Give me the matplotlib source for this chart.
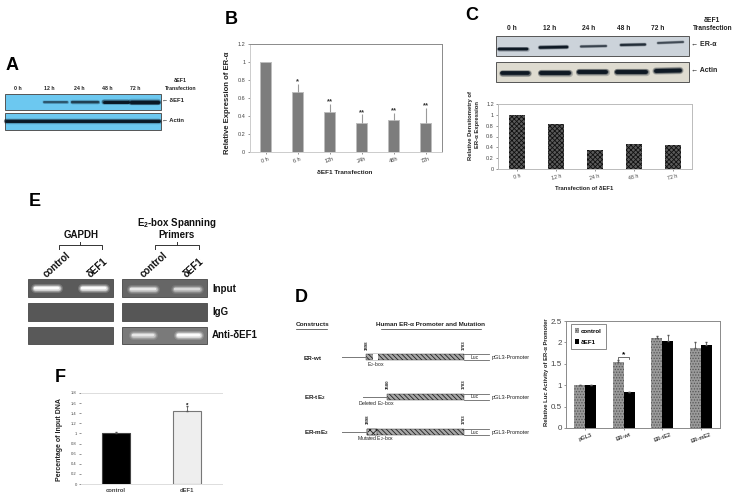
import numpy as np
import matplotlib
matplotlib.use('Agg')
import matplotlib.pyplot as plt
from matplotlib.patches import Rectangle

W, H = 737, 496
plt.rcParams['font.family'] = ['Liberation Sans', 'DejaVu Sans']
plt.rcParams['mathtext.default'] = 'regular'
plt.rcParams['hatch.linewidth'] = 0.6

# panel B
b_labels = ['0 h', '6 h', '12h', '24h', '48h', '72h']
b_values = [1.0, 0.67, 0.45, 0.33, 0.36, 0.33]
b_errors = [0.005, 0.09, 0.09, 0.09, 0.08, 0.16]
b_stars = ['', '*', '**', '**', '**', '**']

# panel C
c_labels = ['0 h', '12 h', '24 h', '48 h', '72 h']
c_values = [1.0, 0.84, 0.36, 0.46, 0.44]

# panel D
d_labels = ['pGL3', 'ER-wt', 'ER-tE2', 'ER-mE2']
d_control = [1.0, 1.55, 2.11, 1.87]
d_control_err = [0.0, 0.03, 0.04, 0.14]
d_def1 = [1.0, 0.85, 2.04, 1.93]
d_def1_err = [0.0, 0.0, 0.13, 0.08]

# panel F
f_labels = ['control', 'dEF1']
f_values = [1.0, 1.45]
f_errors = [0.02, 0.09]

# band strengths on the blots and gels
a_def1_bands = [0.0, 0.25, 0.4, 0.75, 1.0]
c_era_bands = [0.85, 0.8, 0.4, 0.55, 0.35]
c_actin_bands = [0.9, 1.0, 1.0, 1.0, 1.0]
e_input_gapdh = [1.0, 1.0]
e_input_primers = [0.7, 0.55]
e_anti_primers = [0.65, 1.0]

fig = plt.figure(figsize=(W / 100, H / 100), dpi=100)


def box_axes(x0, y0, x1, y1):
    return fig.add_axes([x0 / W, 1 - y1 / H, (x1 - x0) / W, (y1 - y0) / H])


canvas = fig.add_axes([0, 0, 1, 1], zorder=3)
canvas.set_xlim(0, W)
canvas.set_ylim(H, 0)
canvas.axis('off')
canvas.patch.set_alpha(0)


def label(x, y, s, size=4.5, weight='bold', color='#222222', ha='center', rot=0):
    canvas.text(x, y, s, fontsize=size, fontweight=weight, color=color, ha=ha,
                va='center', rotation=rot, rotation_mode='anchor')


def panel(x, y, s):
    label(x, y, s, size=13, color='black', ha='left')


def blot(x0, y0, x1, y1, color):
    canvas.add_patch(Rectangle((x0, y0), x1 - x0, y1 - y0, fc=color, ec='#555555', lw=0.7))


def band(x0, x1, y0, y1, strength, color='#05101c', thick=3.0):
    if strength <= 0:
        return
    width = thick * (0.45 + 0.55 * strength) * 0.72
    for k, a in [(1.6, 0.22), (1.25, 0.4), (0.85, 0.9)]:
        canvas.plot([x0, x1], [y0, y1], color=color, alpha=a * min(1, strength + 0.25),
                    lw=k * width, solid_capstyle='round')


def gel_band(x0, x1, y, strength):
    for k, a in [(9, 0.18), (6.5, 0.35), (4.5, 0.6), (2.5, 0.9)]:
        canvas.plot([x0, x1], [y, y], color='white', alpha=a * strength, lw=k * 0.72,
                    solid_capstyle='round')


def style_axes(ax, edge='#8a8a8a', tick=4.0):
    for s in ax.spines.values():
        s.set_color(edge)
        s.set_linewidth(0.7)
    ax.tick_params(axis='both', length=1.5, width=0.4, labelsize=tick, pad=1.5,
                   colors='#444444')


# A
panel(6, 65, 'A')
for x, s in zip([18, 49, 79, 107, 135], ['0 h', '12 h', '24 h', '48 h', '72 h']):
    label(x, 88, s, size=3.8)
label(180, 81, 'δEF1', size=3.8)
label(181, 88, 'Transfection', size=3.8)
blot(5, 94, 161, 110, '#6cc8f0')
blot(5, 113, 161, 130, '#6cc8f0')
for (x0, x1), v in zip([(8, 30), (44, 67), (72, 98), (104, 128), (131, 158)], a_def1_bands):
    band(x0, x1, 101.5, 101.5, v, thick=4.0)
band(6, 159, 121, 121, 1.0, thick=3.4)
label(162, 101, '← δEF1', size=4.2, ha='left')
label(162, 120, '← Actin', size=4.2, ha='left')

# B
panel(225, 20, 'B')
ax = box_axes(249.5, 44, 441.5, 152.3)
x = np.arange(len(b_values))
ax.bar(x, b_values, width=0.33, color='#7d7d7d', edgecolor='#bdbdbd', linewidth=0.7)
ax.errorbar(x, b_values, yerr=[np.zeros(6), b_errors], fmt='none', ecolor='#9a9a9a',
            elinewidth=0.8, capsize=0)
for i, s in enumerate(b_stars):
    ax.text(i, b_values[i] + b_errors[i] - 0.015, s, ha='center', va='bottom', fontsize=5.5,
            fontweight='bold', color='#333333')
ax.set_xlim(-0.5, 5.5)
ax.set_ylim(0, 1.2)
ax.set_yticks([0, 0.2, 0.4, 0.6, 0.8, 1, 1.2])
ax.set_yticklabels(['0', '0.2', '0.4', '0.6', '0.8', '1', '1.2'])
ax.set_xticks(x)
ax.set_xticklabels(b_labels, rotation=20)
style_axes(ax)
ax.spines['left'].set_color('#cccccc')
ax.spines['bottom'].set_color('#cccccc')
label(227.5, 103, 'Relative Expression of ER-α', size=5.6, rot=90)
label(345, 172.5, 'δEF1 Transfection', size=4.6)

# C
panel(465, 15, 'C')
for x0, s in zip([512, 550, 589, 624, 658], c_labels):
    label(x0, 29, s, size=4.8)
label(712, 21, 'δEF1', size=4.8)
label(713, 29, 'Transfection', size=4.8)
blot(496, 36, 689, 56, '#ccd3da')
blot(496, 62, 689, 82, '#dedbd0')
era_pos = [(499, 527, 48.5, 48.5), (540, 567, 47.5, 47), (581, 606, 46.5, 46),
           (621, 645, 45, 44.5), (658, 683, 43, 42)]
actin_pos = [(502, 528, 73, 73), (541, 569, 73, 73), (579, 606, 72, 72),
             (617, 646, 71.5, 71.5), (656, 680, 71, 70.5)]
for (x0, x1, y0, y1), v in zip(era_pos, c_era_bands):
    band(x0, x1, y0, y1, v, thick=3.2)
for (x0, x1, y0, y1), v in zip(actin_pos, c_actin_bands):
    band(x0, x1, y0, y1, v, thick=4.6)
label(691, 44, '← ER-α', size=5, ha='left')
label(691, 70, '← Actin', size=5, ha='left')

ax = box_axes(498, 104, 692, 169)
x = np.arange(len(c_values))
ax.bar(x, c_values, width=0.41, color='#5a5a5a', edgecolor='#111111', hatch='xxxxxxx', linewidth=0)
ax.set_xlim(-0.5, 4.5)
ax.set_ylim(0, 1.2)
ax.set_yticks([0, 0.2, 0.4, 0.6, 0.8, 1, 1.2])
ax.set_yticklabels(['0', '0.2', '0.4', '0.6', '0.8', '1', '1.2'])
ax.set_xticks(x)
ax.set_xticklabels(c_labels, rotation=15)
style_axes(ax, edge='#bbbbbb')
ax.tick_params(axis='x', labelsize=3.8)
label(471, 125, 'Relative Densitometry of', size=4.2, rot=90)
label(478, 125, 'ER-α Expression', size=4.2, rot=90)
label(584, 189, 'Transfection of δEF1', size=4.2)

# E
panel(29, 202, 'E')
label(81, 235, 'GAPDH', size=7, color='#111111')
label(177, 223, 'E$_2$-box Spanning', size=7, color='#111111')
label(177, 235, 'Primers', size=7, color='#111111')
for x0, x1 in [(59, 102), (155, 199)]:
    canvas.plot([x0, x0, x1, x1], [249, 245, 245, 249], color='#333333', lw=0.7)
    canvas.plot([(x0 + x1) / 2] * 2, [245, 242], color='#333333', lw=0.7)
for x0, s in zip([45, 89, 142, 185], ['control', 'δEF1', 'control', 'δEF1']):
    label(x0, 276, s, size=7, ha='left', rot=42, color='#111111')
rows = [(279, 297), (303, 321), (327, 344)]
gel_colors = [('#5a5a5a', '#666666'), ('#575757', '#565656'), ('#595959', '#7a7a7a')]
for (y0, y1), (c0, c1) in zip(rows, gel_colors):
    blot(28, y0, 113.5, y1, c0)
    blot(122, y0, 207.5, y1, c1)
for (x0, x1), v in zip([(35, 58), (82, 105)], e_input_gapdh):
    gel_band(x0, x1, 288, v)
for (x0, x1), v in zip([(131, 155), (175, 199)], e_input_primers):
    gel_band(x0, x1, 288.5, v)
for (x0, x1), v in zip([(133, 153), (178, 199)], e_anti_primers):
    gel_band(x0, x1, 335, v)
label(212, 288.5, 'Input', size=7, ha='left', color='#111111')
label(212, 312, 'IgG', size=7, ha='left', color='#111111')
label(212, 335, 'Anti-δEF1', size=7, ha='left', color='#111111')

# D schematic
panel(295, 298, 'D')
label(296, 325, 'Constructs', size=4.6, ha='left')
canvas.plot([296, 327], [329, 329], color='#333333', lw=0.5)
label(431, 324, 'Human ER-α Promoter and Mutation', size=4.6)
canvas.plot([381, 481], [328.5, 328.5], color='#333333', lw=0.5)


def construct(y, name, line_x0, box_x0, site, note, note_y, gap=False, mutated=False):
    top, bottom = y - 3, y + 3
    label(304, y + 1, name, size=4.6, ha='left')
    canvas.plot([line_x0, box_x0], [y, y], color='#777777', lw=0.7)
    canvas.add_patch(Rectangle((box_x0, top), 464 - box_x0, 6, fc='#a8a8a8', ec='#222222',
                               hatch='\\\\\\\\\\\\\\', lw=0.3))
    if gap:
        canvas.add_patch(Rectangle((373, top), 5, 6, fc='white', ec='none'))
    if mutated:
        canvas.add_patch(Rectangle((367, top), 10, 6, fc='#c0c0c0', ec='#222222',
                                   hatch='xxxxx', lw=0.3))
    canvas.plot([464, 489], [top, top], color='#666666', lw=0.6)
    canvas.plot([464, 489], [bottom, bottom], color='#666666', lw=0.6)
    label(475, y + 0.5, 'Luc', size=3.6, weight='normal')
    label(492, y + 1, 'pGL3-Promoter', size=4, weight='normal', ha='left')
    label(box_x0 + 0.5, y - 12, site, size=3.2, rot=90)
    label(464, y - 12, '1783', size=3.2, rot=90)
    label(376, note_y, note, size=3.7, weight='normal')


construct(357, 'ER-wt', 342, 366, '3898', 'E$_2$-box', 364.5, gap=True)
construct(396.5, 'ER-tE$_2$', 363, 387, '3580', 'Deleted E$_2$-box', 403.5)
construct(431.5, 'ER-mE$_2$', 342, 367, '3898', 'Mutated E$_2$-box', 438.5, mutated=True)

# D chart
ax = box_axes(566, 321, 720, 428)
x = np.arange(len(d_labels))
ax.bar(x - 0.145, d_control, width=0.29, color='#9a9a9a', edgecolor='#555555', hatch='......',
       linewidth=0, label='control')
ax.bar(x + 0.145, d_def1, width=0.29, color='black', label='δEF1')
ax.errorbar(x - 0.145, d_control, yerr=[np.zeros(4), d_control_err], fmt='none', ecolor='#555555',
            elinewidth=0.6, capsize=1)
ax.errorbar(x + 0.145, d_def1, yerr=[np.zeros(4), d_def1_err], fmt='none', ecolor='#555555',
            elinewidth=0.6, capsize=1)
ax.plot([0.86, 0.86, 1.14, 1.14], [1.62, 1.67, 1.67, 1.62], color='#333333', lw=0.5)
ax.text(1, 1.64, '*', ha='center', va='bottom', fontsize=6, fontweight='bold')
ax.set_xlim(-0.5, 3.5)
ax.set_ylim(0, 2.5)
ax.set_yticks([0, 0.5, 1, 1.5, 2, 2.5])
ax.set_yticklabels(['0', '0.5', '1', '1.5', '2', '2.5'])
ax.set_xticks(x)
ax.set_xticklabels(d_labels, rotation=20, fontweight='bold')
style_axes(ax)
ax.tick_params(axis='y', labelsize=5.8)
ax.tick_params(axis='x', labelsize=4)
leg = ax.legend(loc='upper left', bbox_to_anchor=(0.03, 0.97), fontsize=4.4, frameon=True,
                fancybox=False, edgecolor='#555555', handlelength=0.7, handleheight=0.7,
                handletextpad=0.2, borderpad=0.7, labelspacing=0.9, borderaxespad=0)
leg.get_frame().set_linewidth(0.6)
for t in leg.get_texts():
    t.set_fontweight('bold')
label(547, 372, 'Relative Luc Activity of ER-α Promoter', size=4.2, rot=90)

# F
panel(55, 377, 'F')
ax = box_axes(81, 393, 222, 484)
x = np.arange(len(f_values))
ax.bar(x, f_values, width=0.4, color=['black', '#eeeeee'], edgecolor=['#444444', '#777777'],
       linewidth=0.8)
ax.errorbar(x, f_values, yerr=[np.zeros(2), f_errors], fmt='none', ecolor='#555555',
            elinewidth=0.6, capsize=0.8)
ax.text(1, 1.5, '*', ha='center', va='bottom', fontsize=4.5, fontweight='bold')
ax.set_xlim(-0.5, 1.5)
ax.set_ylim(0, 1.8)
ax.set_yticks(np.arange(0, 1.81, 0.2))
ax.set_yticklabels(['0', '0.2', '0.4', '0.6', '0.8', '1', '1.2', '1.4', '1.6', '1.8'])
ax.set_xticks(x)
ax.set_xticklabels(f_labels, fontweight='bold')
style_axes(ax, edge='#dddddd', tick=3)
ax.tick_params(axis='x', labelsize=4.2, length=0, pad=3)
ax.spines['left'].set_visible(False)
ax.spines['right'].set_visible(False)
label(59.5, 440, 'Percentage of Input DNA', size=5, rot=90)

fig.savefig('out.png', dpi=100)
